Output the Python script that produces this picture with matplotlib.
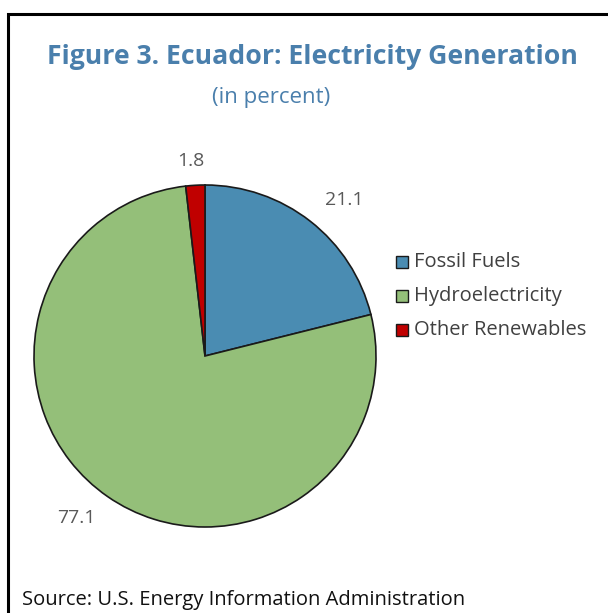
import numpy as np
import matplotlib.pyplot as plt
from matplotlib.patches import Rectangle

categories = ["Fossil Fuels", "Hydroelectricity", "Other Renewables"]
values = [21.1, 77.1, 1.8]
colors = ["#4a8cb2", "#94bf79", "#c00000"]

title = "Figure 3. Ecuador: Electricity Generation"
subtitle = "(in percent)"
source = "Source: U.S. Energy Information Administration"

plt.rcParams["font.family"] = ["Open Sans", "DejaVu Sans"]

W, H = 608, 613
fig = plt.figure(figsize=(W / 100, H / 100), dpi=100)
fig.patch.set_facecolor("white")


def fx(px):
    return px / W


def fy(py):
    return 1 - py / H


# outer frame
fig.add_artist(Rectangle((fx(8), -0.05), 1.2, (H - 14) / H + 0.05,
                         transform=fig.transFigure, fill=False,
                         edgecolor="black", linewidth=2.2))

fig.text(fx(312), fy(57), title, ha="center", va="center",
         fontsize=19.2, fontweight="bold", color="#4a7fac")
fig.text(fx(271), fy(97), subtitle, ha="center", va="center",
         fontsize=16, color="#4a7fac")

# pie axes: center (205, 356), radius ~171 px
cx, cy, r = 205, 356, 171
ax = fig.add_axes([fx(cx - r), fy(cy + r), 2 * r / W, 2 * r / H])
wedges, _ = ax.pie(values, colors=colors, startangle=90, counterclock=False,
                   wedgeprops=dict(edgecolor="#1a1a1a", linewidth=1.2))
ax.set_aspect("equal")
ax.set_xlim(-1, 1)
ax.set_ylim(-1, 1)

# value labels just outside each wedge, anchored by the corner nearest the pie
gap = 1.09
for w, v in zip(wedges, values):
    ang = np.deg2rad((w.theta1 + w.theta2) / 2)
    c, s = np.cos(ang), np.sin(ang)
    if abs(c) < 0.2:
        ha = "center"
        x = gap * c - 0.02
    else:
        ha = "left" if c > 0 else "right"
        x = gap * c + (0.03 if c > 0 else -0.02)
    va = "bottom" if s > 0 else "top"
    ax.text(x, gap * s, f"{v:.1f}", ha=ha, va=va,
            fontsize=14, color="#595959")

# legend
for i, (c, name) in enumerate(zip(colors, categories)):
    yc = 262 + 34 * i
    fig.add_artist(Rectangle((fx(396), fy(yc + 6)), 12 / W, 12 / H,
                             transform=fig.transFigure, facecolor=c,
                             edgecolor="#1a1a1a", linewidth=1.0))
    fig.text(fx(414), fy(yc), name, ha="left", va="center",
             fontsize=14.5, color="#404040")

fig.text(fx(22), fy(600), source, ha="left", va="center",
         fontsize=14.5, color="#111111")

fig.savefig("out.png", dpi=100, facecolor="white")
